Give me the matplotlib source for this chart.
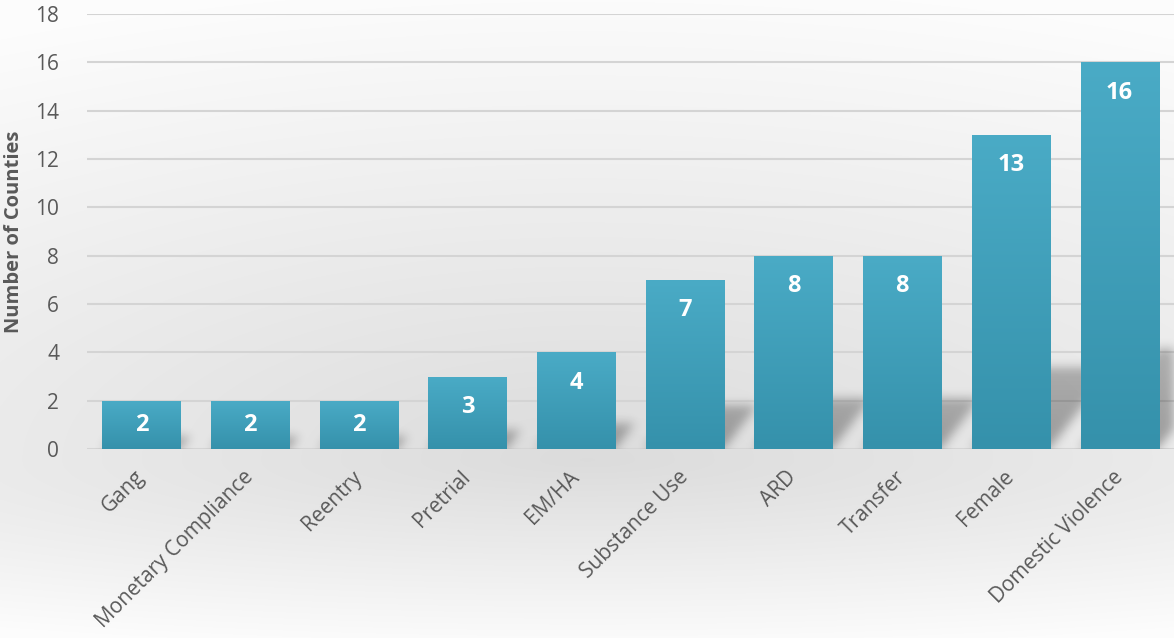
import numpy as np
import matplotlib
matplotlib.use("Agg")
import matplotlib.pyplot as plt
from matplotlib.colors import LinearSegmentedColormap, to_rgb

# ---- data ----
categories = ["Gang", "Monetary Compliance", "Reentry", "Pretrial", "EM/HA",
              "Substance Use", "ARD", "Transfer", "Female", "Domestic Violence"]
counts = [2, 2, 2, 3, 4, 7, 8, 8, 13, 16]
y_ticks = [0, 2, 4, 6, 8, 10, 12, 14, 16, 18]
y_label = "Number of Counties"

plt.rcParams['font.family'] = ['Open Sans', 'DejaVu Sans']

W, H, DPI = 1174, 638, 100
fig = plt.figure(figsize=(W / DPI, H / DPI), dpi=DPI)

# ---- background gradient ----
bg_ax = fig.add_axes([0, 0, 1, 1], zorder=-10)
bg_ax.set_axis_off()
yy, xx = np.mgrid[0:H, 0:W].astype(float)
cy = 460.0
ry = np.where(yy < cy, 480.0, 190.0)
d = np.sqrt(((xx - 587) / 1300.0) ** 2 + ((yy - cy) / ry) ** 2)
val = 0.862 + (0.99 - 0.862) * np.clip(d, 0, 1)
bg = np.dstack([val, val, val])
bg_ax.imshow(bg, extent=[0, 1, 0, 1], aspect='auto', origin='upper')
bg_ax.set_xlim(0, 1)
bg_ax.set_ylim(0, 1)

# ---- main axes ----
left, bottom = 87 / W, 1 - 449 / H
top = 1 - 14 / H
ax = fig.add_axes([left, bottom, 1 - left, top - bottom])
ax.patch.set_visible(False)

x = np.arange(len(categories))
bar_w = 0.72
ax.set_xlim(-0.5, len(categories) - 0.5)
ax.set_ylim(0, 18)

# gridlines
ax.set_yticks(y_ticks)
ax.yaxis.grid(True, color='#d4d4d4', linewidth=1.5, zorder=0.5)
ax.set_axisbelow(True)
for s in ax.spines.values():
    s.set_visible(False)

# ---- shadows (derived from bar values) ----
nx, ny = 1090, 436
gx = np.linspace(-0.5, len(categories) - 0.5, nx)
gy = np.linspace(0, 18, ny)
GX, GY = np.meshgrid(gx, gy)
mask = np.zeros_like(GX)
for xi, v in zip(x, counts):
    hs = 0.26 * v
    dx = 0.045 * v
    frac = np.clip(GY / hs, 0, None)
    shift = dx * frac
    inside = (GY <= hs) & (GX >= xi - bar_w / 2 + shift) & (GX <= xi + bar_w / 2 + shift)
    a = 0.33 * (1 - 0.2 * frac)
    mask = np.maximum(mask, np.where(inside, a, 0))

def gblur(arr, sigma):
    r = int(3 * sigma)
    k = np.exp(-0.5 * (np.arange(-r, r + 1) / sigma) ** 2)
    k /= k.sum()
    out = np.apply_along_axis(lambda m: np.convolve(m, k, mode='same'), 1, arr)
    out = np.apply_along_axis(lambda m: np.convolve(m, k, mode='same'), 0, out)
    return out

mask = gblur(mask, 5.0)
shadow = np.zeros((ny, nx, 4))
shadow[..., 3] = mask
ax.imshow(shadow, extent=[-0.5, len(categories) - 0.5, 0, 18], origin='lower',
          aspect='auto', zorder=1, interpolation='bilinear')

# ---- bars with vertical gradient ----
top_c = np.array(to_rgb('#4aabc6'))
bot_c = np.array(to_rgb('#3591ab'))
cmap = LinearSegmentedColormap.from_list('bar', [bot_c, top_c])
bars = ax.bar(x, counts, width=bar_w, color='#3f9eb8', zorder=2, linewidth=0)
grad = np.linspace(0, 1, 256).reshape(-1, 1)
for b in bars:
    bx, by = b.get_x(), b.get_y()
    bw, bh = b.get_width(), b.get_height()
    im = ax.imshow(grad, extent=[bx, bx + bw, by, by + bh], origin='lower',
                   aspect='auto', cmap=cmap, zorder=2.1)
    im.set_clip_path(b)

# value labels
for xi, v in zip(x, counts):
    ly = max(v - 1.25, v / 2)
    ax.text(xi, ly, str(v), ha='center', va='center', color='white',
            fontsize=17, fontweight='bold', zorder=3)

ax.set_xticks(x)
ax.set_xticklabels(categories, rotation=45, ha='right', va='center',
                   rotation_mode='anchor', fontsize=15, color='#595959')
ax.tick_params(axis='x', length=0, pad=18)
ax.tick_params(axis='y', length=0, pad=20, labelsize=15, labelcolor='#595959')
for lab in ax.get_yticklabels():
    lab.set_horizontalalignment('right')

ax.set_ylabel(y_label, fontsize=14.5, fontweight='bold', color='#595959', labelpad=8)

fig.savefig('out.png', dpi=DPI)
